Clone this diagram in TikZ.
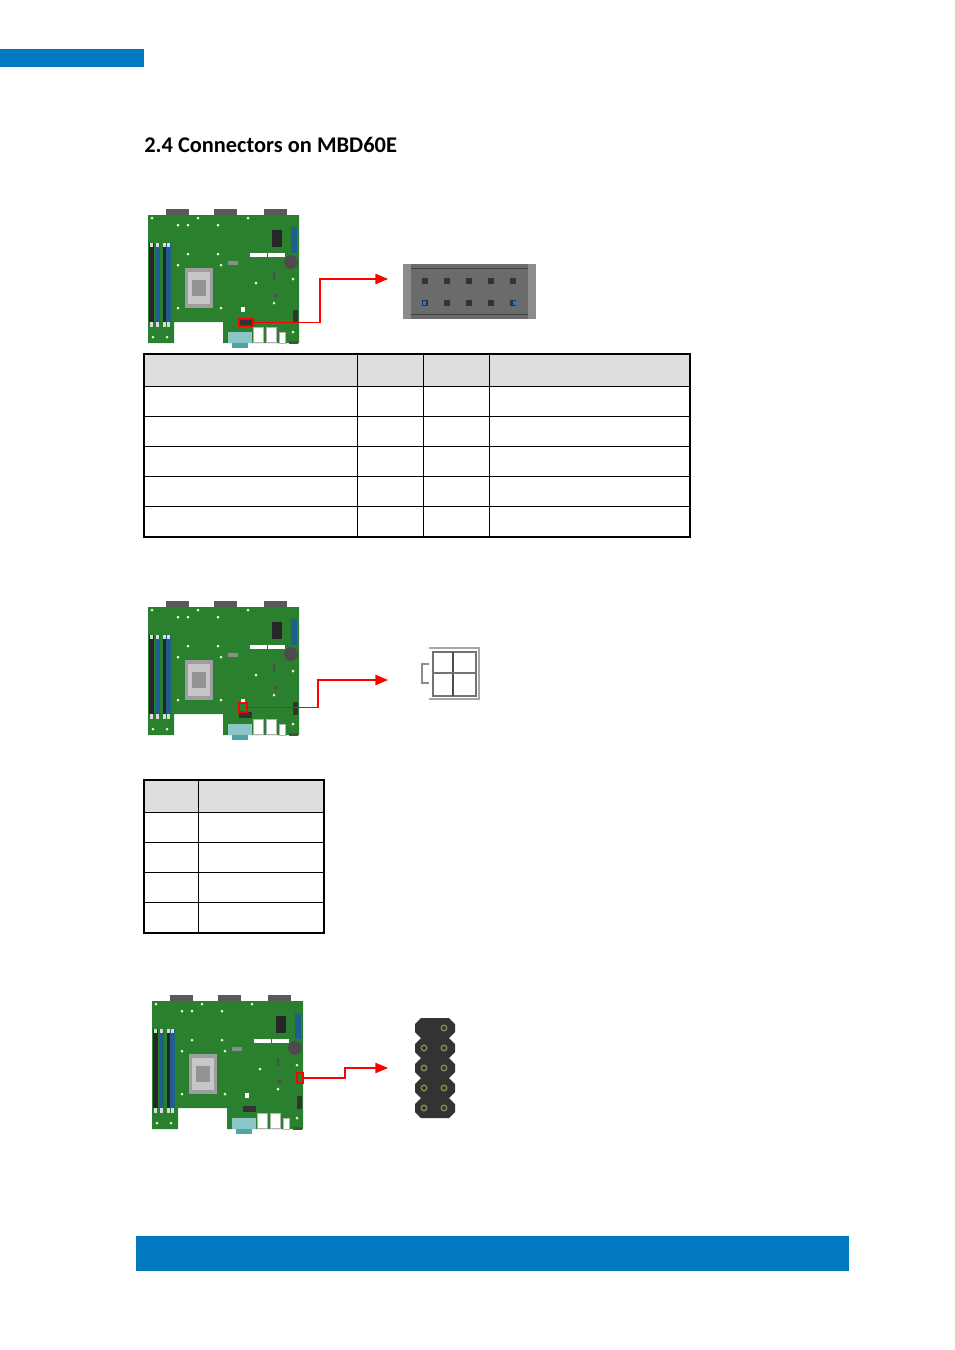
\documentclass[tikz,border=0pt]{standalone}
\usepackage{fontspec}
\setmainfont{Carlito}
\usepackage{xcolor}
\usetikzlibrary{arrows}
\definecolor{bar_blue}{HTML}{0079C1}
\definecolor{pcb_green}{HTML}{2B8030}
\definecolor{head_grey}{HTML}{DEDEDE}
\definecolor{slot_blue}{HTML}{1F5F8F}
\definecolor{pin_olive}{HTML}{8C8C4A}
\tikzset{
    title_node/.style = {anchor=west, inner sep=0pt, font=\bfseries\fontsize{16.8}{20}\selectfont},
    mark_box/.style = {rectangle, draw=red, line width=1.2pt, inner sep=0pt},
    red_line/.style = {draw=red, line width=1.2pt, -triangle 45},
    thick_rule/.style = {draw=black, line width=1.3pt},
    thin_rule/.style = {draw=black, line width=0.7pt},
    hole/.style = {fill=green!40!yellow!30!white},
    pin_node/.style = {rectangle, fill=black!80, minimum size=4.5pt, inner sep=0pt}
}
% board drawn at the top left corner (#1,#2)
\newcommand{\mbdboard}[2]{
    \begin{scope}[shift={(#1,#2)}]
        \foreach \cx in {18,66,116}
            \fill[black!65] (\cx,-1) rectangle +(23,6);
        \fill[pcb_green] (0,5) -- (151,5) -- (151,133) -- (75,133) -- (75,112) -- (26,112) -- (26,133) -- (0,133) -- cycle;
        % memory slots
        \fill[black!85] (1,33) rectangle (5.5,112);
        \fill[slot_blue] (7,33) rectangle (12,112);
        \fill[black!85] (15,33) rectangle (18,112);
        \fill[slot_blue] (18,33) rectangle (23,112);
        \foreach \cx in {3,9.5,16.5,20.5} {
            \fill[black!15] (\cx-1.5,33) rectangle +(3,4);
            \fill[black!15] (\cx-1.5,112) rectangle +(3,5);
        }
        % socket
        \fill[black!38] (37,58) rectangle (65,98);
        \fill[black!22] (40,62) rectangle (62,94);
        \fill[black!42] (44,70) rectangle (58,86);
        % slots and chips
        \fill[white] (102,43) rectangle (119,47);
        \fill[white] (120,43) rectangle (137,47);
        \fill[black!85] (124,20) rectangle (134,37);
        \fill[black!45] (80,51) rectangle (90,55);
        \fill[slot_blue] (143,17) rectangle (149,43);
        \fill[black!70] (143,52) circle (7);
        \fill[black!80] (145,100) rectangle (150,113);
        \fill[black!80] (91,110) rectangle (104,116);
        \fill[black!70] (125,62) rectangle (127,70);
        \fill[black!70] (126,84) rectangle (129,87);
        % rear panel
        \fill[teal!45] (80,122) rectangle (104,133);
        \fill[teal!70] (84,133) rectangle (100,138);
        \fill[white, draw=black!30] (105,117) rectangle (115,132);
        \fill[white, draw=black!30] (118,117) rectangle (128,132);
        \fill[white, draw=black!30] (131,122) rectangle (137,133);
        \fill[black!70] (141,131) rectangle (150,134);
        % mounting holes
        \foreach \hx/\hy in {4/8, 50/8, 100/8, 30/15, 40/15, 70/15, 40/44, 70/44, 30/55, 73/55, 108/73, 145/69, 126/93, 30/98, 73/98, 5/127, 19/127, 145/122}
            \fill[hole] (\hx,\hy) circle (1.5);
        \fill[white] (93,97) rectangle (97,102);
    \end{scope}
}
\begin{document}
\begin{tikzpicture}[x=0.75pt, y=-0.75pt, >=stealth']
    \useasboundingbox (0,0) rectangle (954,1350);

    \fill[bar_blue] (0,49) rectangle (144,67);
    \fill[bar_blue] (136,1236) rectangle (849,1271);
    \node [title_node] (section_title) at (144,145) {2.4 Connectors on MBD60E};

    % first connector
    \mbdboard{148}{210}
    \node [mark_box, minimum width=10.5pt, minimum height=5.5pt] (mark_one) at (246,322.5) {};
    \fill[black!58] (403,264) rectangle (536,319);
    \fill[black!45] (403,264) rectangle (411,319);
    \fill[black!45] (528,264) rectangle (536,319);
    \draw[black!75, line width=0.7pt] (411,268) -- (528,268);
    \draw[black!75, line width=0.7pt] (411,314.5) -- (528,314.5);
    \foreach \px [count=\pi] in {425,447,469,491,513} {
        \node [pin_node] (pin_a\pi) at (\px,281) {};
        \node [pin_node] (pin_b\pi) at (\px,303) {};
    }
    \fill[blue!50!cyan] (423,301) rectangle (426,305);
    \fill[blue!50!cyan] (513,301) rectangle (516,305);
    \coordinate (bend_one) at (320,279);
    \coordinate (tip_one) at (388,279);
    \draw[red_line] (mark_one.east) -| (bend_one) -- (tip_one);

    \fill[head_grey] (144,354) rectangle (690,386.5);
    \foreach \ry in {386.5,416.5,446.5,476.5,506.5}
        \draw[thin_rule] (144,\ry) -- (690,\ry);
    \foreach \rx in {357,423,489}
        \draw[thin_rule] (\rx,354) -- (\rx,537);
    \draw[thick_rule] (144,354) rectangle (690,537);

    % second connector
    \mbdboard{148}{602}
    \node [mark_box, minimum width=6pt, minimum height=7pt] (mark_two) at (243,707.5) {};
    \draw[black!35, line width=1pt] (429,648) -- (479,648) -- (479,699) -- (429,699);
    \draw[black!45, line width=1pt] (429,664) -- (422,664) -- (422,683) -- (429,683);
    \draw[black!55, line width=1.1pt] (433,652) rectangle (476,696);
    \draw[black!70, line width=1.1pt] (453,652) -- (453,696);
    \draw[black!55, line width=1.1pt] (433,673) -- (476,673);
    \coordinate (bend_two) at (318,680);
    \coordinate (tip_two) at (388,680);
    \draw[red_line] (mark_two.east) -| (bend_two) -- (tip_two);

    \fill[head_grey] (144,780) rectangle (324,812.5);
    \foreach \ry in {812.5,842.5,872.5,902.5}
        \draw[thin_rule] (144,\ry) -- (324,\ry);
    \draw[thin_rule] (198,780) -- (198,933);
    \draw[thick_rule] (144,780) rectangle (324,933);

    % third connector
    \mbdboard{152}{996}
    \node [mark_box, minimum width=4.5pt, minimum height=7.5pt] (mark_three) at (300,1078) {};
    \fill[black!80] (421,1018) -- (449,1018) -- (455,1024) -- (455,1032) -- (449,1038)
        -- (455,1044) -- (455,1052) -- (449,1058) -- (455,1064) -- (455,1072) -- (449,1078)
        -- (455,1084) -- (455,1092) -- (449,1098) -- (455,1104) -- (455,1112) -- (449,1118)
        -- (421,1118) -- (415,1112) -- (415,1104) -- (421,1098) -- (415,1092) -- (415,1084)
        -- (421,1078) -- (415,1072) -- (415,1064) -- (421,1058) -- (415,1052) -- (415,1044)
        -- (421,1038) -- (415,1032) -- (415,1024) -- cycle;
    \foreach \py in {1048,1068,1088,1108}
        \draw[pin_olive, line width=1pt] (424,\py) circle (2.8);
    \foreach \py in {1028,1048,1068,1088,1108}
        \draw[pin_olive, line width=1pt] (444,\py) circle (2.8);
    \coordinate (bend_three) at (345,1068);
    \coordinate (tip_three) at (388,1068);
    \draw[red_line] (mark_three.east) -| (bend_three) -- (tip_three);
\end{tikzpicture}
\end{document}
